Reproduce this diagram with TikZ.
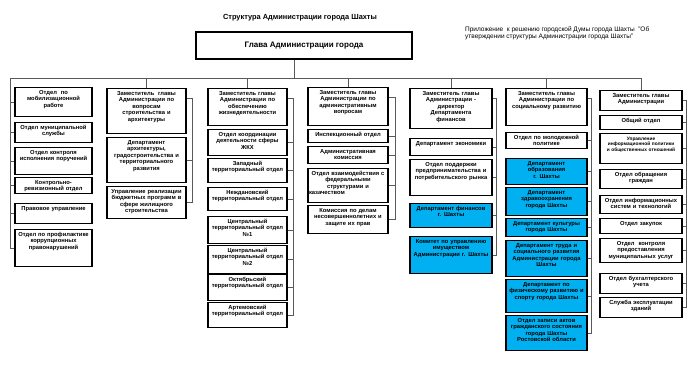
\documentclass[tikz,border=0pt]{standalone}
\usepackage{fontspec}
\setmainfont{Liberation Sans}
\definecolor{skyblue}{RGB}{0,176,240}
\tikzset{
  unit/.style={draw, line width=1.2pt, fill=white, anchor=north, align=center,
    inner xsep=1pt, inner ysep=1.8pt, text height=4.6pt,
    font=\bfseries\fontsize{5.8}{6.5}\selectfont},
  dept/.style={unit, fill=skyblue},
  colA/.style={text width=75pt},
  colB/.style={text width=77pt},
  colC/.style={text width=77pt},
  colD/.style={text width=78pt},
  colE/.style={text width=80pt},
  colF/.style={text width=79pt},
  colG/.style={text width=80pt},
  link/.style={black!65, line width=0.6pt}
}
\begin{document}
\begin{tikzpicture}[x=1pt,y=-1pt]
  \useasboundingbox (0,0) rectangle (700,365);
  \node[font=\bfseries\fontsize{7.4}{9}\selectfont] (title) at (300,18) {Структура Администрации города Шахты};
  \node[anchor=north west, align=left, inner sep=0pt, font=\fontsize{6.5}{7.4}\selectfont] (note) at (465,26) {Приложение\ \ к решению городской Думы города Шахты\ \ "Об\\утверждении структуры Администрации города Шахты"};
  \node[draw, line width=1.2pt, minimum width=216pt, minimum height=27pt, font=\bfseries\fontsize{8}{10}\selectfont] (head) at (304,45.5) {Глава Администрации города};
  \coordinate (busl) at (10,78);
  \coordinate (r2) at (192,0);
  \coordinate (r3) at (293,0);
  \coordinate (r4) at (395,0);
  \coordinate (r5) at (496,0);
  \coordinate (r6) at (591,0);
  \coordinate (r7) at (686,0);

  \node[unit, colA, text depth=20.8pt] (a1) at (53.5,87) {Отдел\ \ по\\мобилизационной\\работе};
  \node[unit, colA, text depth=11.8pt] (a2) at (53.5,122) {Отдел муниципальной\\службы};
  \node[unit, colA, text depth=18.8pt] (a3) at (53.5,147) {Отдел контроля\\исполнения поручений};
  \node[unit, colA, text depth=7.8pt] (a4) at (53.5,177) {Контрольно-\\ревизионный отдел};
  \node[unit, colA, text depth=11.8pt] (a5) at (53.5,203) {Правовое управление};
  \node[unit, colA, text depth=28.8pt] (a6) at (53.5,229) {Отдел по профилактике\\коррупционных\\правонарушений};

  \node[unit, colB, text depth=36.8pt] (z2) at (146.5,88) {Заместитель\ \ главы\\Администрации по\\вопросам\\строительства и\\архитектуры};
  \node[unit, colB, text depth=36.8pt] (b21) at (146.5,137) {Департамент\\архитектуры,\\градостроительства и\\территориального\\развития};
  \node[unit, colB, text depth=23.8pt] (b22) at (146.5,186) {Управление реализации\\бюджетных программ в\\сфере жилищного\\строительства};

  \node[unit, colC, text depth=28.8pt] (z3) at (247.5,88) {Заместитель главы\\Администрации по\\обеспечению\\жизнедеятельности};
  \node[unit, colC, text depth=17.8pt] (c1) at (247.5,129) {Отдел координации\\деятельности сферы\\ЖКХ};
  \node[unit, colC, text depth=15.8pt] (c2) at (247.5,158) {Западный\\территориальный отдел};
  \node[unit, colC, text depth=14.8pt] (c3) at (247.5,187) {Неждановский\\территориальный отдел};
  \node[unit, colC, text depth=18.8pt] (c4) at (247.5,216) {Центральный\\территориальный отдел\\№1};
  \node[unit, colC, text depth=19.8pt] (c5) at (247.5,245) {Центральный\\территориальный отдел\\№2};
  \node[unit, colC, text depth=17.8pt] (c6) at (247.5,274) {Октябрьский\\территориальный отдел};
  \node[unit, colC, text depth=16.8pt] (c7) at (247.5,302) {Артемовский\\территориальный отдел};

  \node[unit, colD, text depth=29.8pt] (z4) at (348,87) {Заместитель главы\\Администрации по\\административным\\вопросам};
  \node[unit, colD, text depth=4.8pt] (d1) at (348,129) {Инспекционный отдел};
  \node[unit, colD, text depth=8.8pt] (d2) at (348,146) {Административная\\комиссия};
  \node[unit, colD, text depth=25.8pt] (d3) at (348,168) {Отдел взаимодействия с\\федеральными\\структурами и\\\makebox[\linewidth][l]{казачеством}};
  \node[unit, colD, text depth=19.8pt] (d4) at (348,205) {Комиссия по делам\\несовершеннолетних и\\защите их прав};

  \node[unit, colE, text depth=31.8pt] (z5) at (451,88) {Заместитель главы\\Администрации -\\директор\\Департамента\\финансов};
  \node[unit, colE, text depth=8.8pt] (e1) at (451,138) {Департамент экономики};
  \node[unit, colE, text depth=27.8pt] (e2) at (451,159) {Отдел поддержки\\предпринимательства и\\потребительского рынка};
  \node[dept, colE, text depth=15.8pt] (e3) at (451,203) {Департамент финансов\\г. Шахты};
  \node[dept, colE, text depth=28.8pt] (e4) at (451,236) {Комитет по управлению\\имуществом\\Администрации г. Шахты};

  \node[unit, colF, text depth=28.8pt] (z6) at (546.5,88) {Заместитель главы\\Администрации по\\социальному развитию};
  \node[unit, colF, text depth=7.8pt] (f1) at (546.5,132) {Отдел по молодежной\\политике};
  \node[dept, colF, text depth=17.8pt] (f2) at (546.5,158) {Департамент\\образования\\г. Шахты};
  \node[dept, colF, text depth=19.8pt] (f3) at (546.5,187) {Департамент\\здравоохранения\\города Шахты};
  \node[dept, colF, text depth=9.8pt] (f4) at (546.5,218) {Департамент культуры\\города Шахты};
  \node[dept, colF, text depth=27.8pt] (f5) at (546.5,240) {Департамент труда и\\социального развития\\Администрации города\\Шахты};
  \node[dept, colF, text depth=24.8pt] (f6) at (546.5,279) {Департамент по\\физическому развитию и\\спорту города Шахты};
  \node[dept, colF, text depth=26.8pt] (f7) at (546.5,315) {Отдел записи актов\\гражданского состояния\\города Шахты\\Ростовской области};

  \node[unit, colG, text depth=11.8pt] (z7) at (641,90) {Заместитель главы\\Администрации};
  \node[unit, colG, text depth=5.8pt] (g1) at (641,115) {Общий отдел};
  \node[unit, colG, text depth=21.8pt, font=\bfseries\fontsize{4.8}{5.8}\selectfont] (g2) at (641,133) {Управление\\информационной политики\\и общественных отношений};
  \node[unit, colG, text depth=10.8pt] (g3) at (641,169) {Отдел обращения\\граждан};
  \node[unit, colG, text depth=9.8pt] (g4) at (641,195) {Отдел информационных\\систем и технологий};
  \node[unit, colG, text depth=6.8pt] (g5) at (641,218) {Отдел закупок};
  \node[unit, colG, text depth=15.8pt] (g6) at (641,238) {Отдел\ \ контроля\\предоставления\\муниципальных услуг};
  \node[unit, colG, text depth=11.8pt] (g7) at (641,273) {Отдел бухгалтерского\\учета};
  \node[unit, colG, text depth=11.8pt] (g8) at (641,297) {Служба эксплуатации\\зданий};

  \draw[link] ([xshift=-10pt]head.south) -- ([xshift=-10pt]head.south |- busl);
  \draw[link] (busl) -- (z7.north |- busl);
  \draw[link] (z2.north) -- (z2.north |- busl);
  \draw[link] (z3.north) -- (z3.north |- busl);
  \draw[link] (z4.north) -- (z4.north |- busl);
  \draw[link] (z5.north) -- (z5.north |- busl);
  \draw[link] (z6.north) -- (z6.north |- busl);
  \draw[link] (z7.north) -- (z7.north |- busl);

  \draw[link] (busl) |- (a6.west);
  \draw[link] (a1.west) -- (a1.west -| busl);
  \draw[link] (a2.west) -- (a2.west -| busl);
  \draw[link] (a3.west) -- (a3.west -| busl);
  \draw[link] (a4.west) -- (a4.west -| busl);
  \draw[link] (a5.west) -- (a5.west -| busl);

  \draw[link] ([yshift=-10pt]z2.north east) -| (r2 |- b22.east) -- (b22.east);
  \draw[link] (b21.east) -- (b21.east -| r2);

  \draw[link] ([yshift=-10pt]z3.north east) -| (r3 |- c7.east) -- (c7.east);
  \draw[link] (c1.east) -- (c1.east -| r3);
  \draw[link] (c2.east) -- (c2.east -| r3);
  \draw[link] (c3.east) -- (c3.east -| r3);
  \draw[link] (c4.east) -- (c4.east -| r3);
  \draw[link] (c5.east) -- (c5.east -| r3);
  \draw[link] (c6.east) -- (c6.east -| r3);

  \draw[link] ([yshift=-10pt]z4.north east) -| (r4 |- d4.east) -- (d4.east);
  \draw[link] (d1.east) -- (d1.east -| r4);
  \draw[link] (d2.east) -- (d2.east -| r4);
  \draw[link] (d3.east) -- (d3.east -| r4);

  \draw[link] ([yshift=-10pt]z5.north east) -| (r5 |- e4.east) -- (e4.east);
  \draw[link] (e1.east) -- (e1.east -| r5);
  \draw[link] (e2.east) -- (e2.east -| r5);
  \draw[link] (e3.east) -- (e3.east -| r5);

  \draw[link] ([yshift=-10pt]z6.north east) -| (r6 |- f7.east) -- (f7.east);
  \draw[link] (f1.east) -- (f1.east -| r6);
  \draw[link] (f2.east) -- (f2.east -| r6);
  \draw[link] (f3.east) -- (f3.east -| r6);
  \draw[link] (f4.east) -- (f4.east -| r6);
  \draw[link] (f5.east) -- (f5.east -| r6);
  \draw[link] (f6.east) -- (f6.east -| r6);

  \draw[link] (z7.east) -| (r7 |- g8.east) -- (g8.east);
  \draw[link] (g1.east) -- (g1.east -| r7);
  \draw[link] (g2.east) -- (g2.east -| r7);
  \draw[link] (g3.east) -- (g3.east -| r7);
  \draw[link] (g4.east) -- (g4.east -| r7);
  \draw[link] (g5.east) -- (g5.east -| r7);
  \draw[link] (g6.east) -- (g6.east -| r7);
  \draw[link] (g7.east) -- (g7.east -| r7);
\end{tikzpicture}
\end{document}
